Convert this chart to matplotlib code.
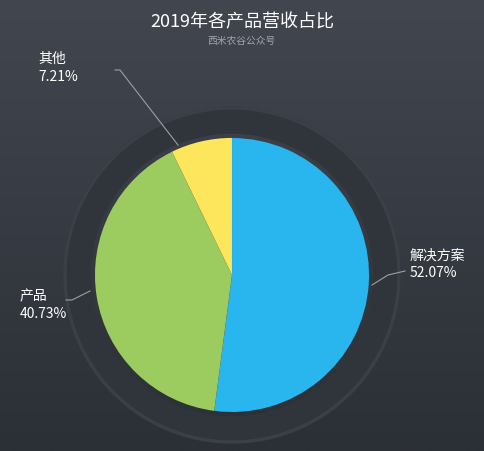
import numpy as np
import matplotlib.pyplot as plt
from matplotlib.patches import Wedge

plt.rcParams['font.family'] = ['Noto Sans CJK SC', 'DejaVu Sans']

names = ['解决方案', '产品', '其他']
shares = [52.07, 40.73, 7.21]
colors = ['#29b5ee', '#9ccb5f', '#fde55c']
explode = [0.03, 0.03, 0.09]

W, H = 484, 451
fig = plt.figure(figsize=(W / 100, H / 100), dpi=100)
ax = fig.add_axes([0, 0, 1, 1])
ax.set_xlim(0, W)
ax.set_ylim(0, H)
ax.axis('off')

# background gradient, dark at top
grad = np.linspace(0, 1, 256).reshape(-1, 1)
ax.imshow(grad, extent=[0, W, 0, H], cmap=plt.matplotlib.colors.LinearSegmentedColormap.from_list(
    'bg', ['#42474f', '#2b2f36']), aspect='auto', zorder=0)

cx, cy, r = 232, 176, 137
# faint ring behind the pie
ax.add_patch(Wedge((cx, cy), 168, 0, 360, width=26, color='#30353c', zorder=1))
ax.add_patch(Wedge((cx, cy), 168, 0, 360, width=2, color='#3b4048', zorder=1))

ax.pie(shares, colors=colors, explode=explode, startangle=90, counterclock=False,
       center=(cx, cy), radius=r, frame=True,
       wedgeprops=dict(edgecolor='none'))
ax.set_xlim(0, W)
ax.set_ylim(0, H)
ax.set_aspect('auto')
ax.axis('off')

lc = '#9aa0a8'
# leader lines and labels
ax.plot([372, 388, 405], [166, 176, 180], color=lc, lw=0.8)
ax.text(410, 187, names[0] + '\n' + f'{shares[0]:.2f}%', color='white', fontsize=10,
        va='center', ha='left', linespacing=1.3)
ax.plot([90, 72, 66], [160, 151, 151], color=lc, lw=0.8)
ax.text(20, 146, names[1] + '\n' + f'{shares[1]:.2f}%', color='white', fontsize=10,
        va='center', ha='left', linespacing=1.3)
ax.plot([178, 120, 115], [306, 381, 381], color=lc, lw=0.8)
ax.text(38, 383, names[2] + '\n' + f'{shares[2]:.2f}%', color='white', fontsize=10,
        va='center', ha='left', linespacing=1.3)

ax.text(W / 2, H - 22, '2019年各产品营收占比', color='white', fontsize=13, ha='center', va='center')
ax.text(W / 2, H - 41, '西米农谷公众号', color='#a0a5ab', fontsize=7, ha='center', va='center')

fig.savefig('out.png', dpi=100)
